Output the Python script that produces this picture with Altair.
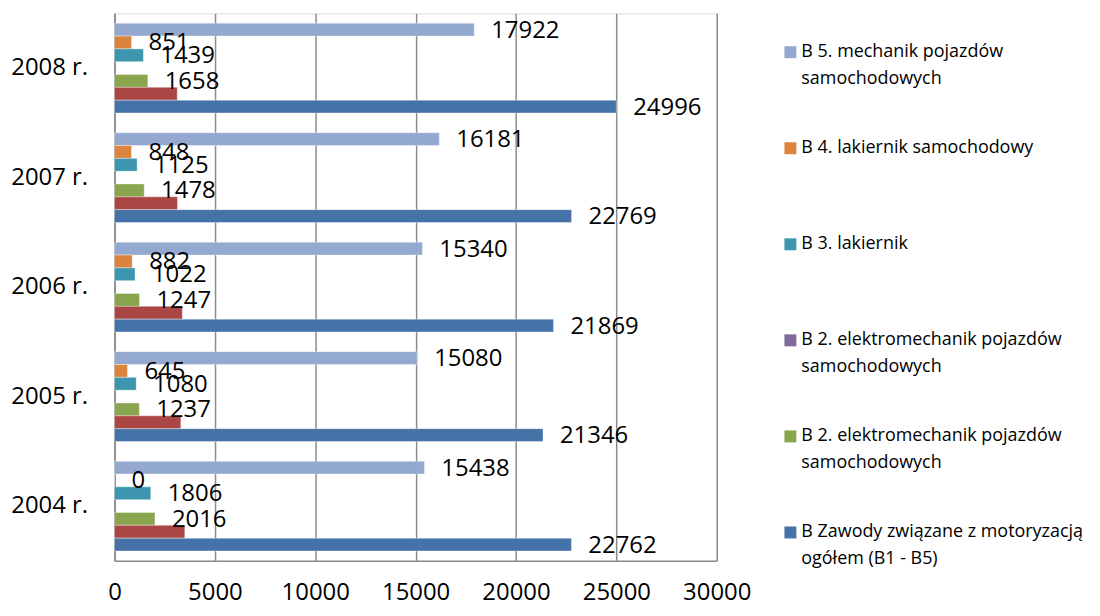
import json
import altair as alt
import pandas as pd

# ---- data ----
years = ["2008 r.", "2007 r.", "2006 r.", "2005 r.", "2004 r."]

b5_mechanik = [17922, 16181, 15340, 15080, 15438]
b4_lakiernik_sam = [851, 848, 882, 645, 0]
b3_lakiernik = [1439, 1125, 1022, 1080, 1806]
b2_elektro_purple = [None, None, None, None, None]
b2_elektro_green = [1658, 1478, 1247, 1237, 2016]
b1_red = [3126, 3137, 3378, 3304, 3502]          # unlabeled bars, read from lengths
b_total = [24996, 22769, 21869, 21346, 22762]

series_keys = ["B5", "B4", "B3", "B2a", "B2b", "B1", "B"]
series_values = [b5_mechanik, b4_lakiernik_sam, b3_lakiernik,
                 b2_elektro_purple, b2_elektro_green, b1_red, b_total]
series_colors = ["#93A9CF", "#DB843D", "#3D96AE", "#80699B", "#89A54E", "#AA4643", "#4572A7"]
labeled_series = ["B5", "B4", "B3", "B2a", "B2b", "B"]

legend_keys = ["B5", "B4", "B3", "B2a", "B2b", "B"]
legend_text = {
    "B5": ["B 5. mechanik pojazdów", "samochodowych"],
    "B4": ["B 4. lakiernik samochodowy"],
    "B3": ["B 3. lakiernik"],
    "B2a": ["B 2. elektromechanik pojazdów", "samochodowych"],
    "B2b": ["B 2. elektromechanik pojazdów", "samochodowych"],
    "B": ["B Zawody związane z motoryzacją", "ogółem (B1 - B5)"],
}

x_ticks = [0, 5000, 10000, 15000, 20000, 25000, 30000]

rows = []
for key, vals in zip(series_keys, series_values):
    for yr, v in zip(years, vals):
        rows.append({"year": yr, "series": key, "value": v})
df = pd.DataFrame(rows)
df_labels = df[df["series"].isin(labeled_series) & df["value"].notna()].copy()
df_labels["label"] = df_labels["value"].astype(int).astype(str)

# legend label expression (two lines each so that every entry has the same height)
expr = "''"
for key in reversed(legend_keys):
    lines = legend_text[key] + [" "] * (2 - len(legend_text[key]))
    expr = f"datum.value == {json.dumps(key)} ? {json.dumps(lines, ensure_ascii=False)} : ({expr})"

FONT = "Open Sans"
GRID = "#8c8c8c"

y_enc = alt.Y("year:N", sort=years,
              scale=alt.Scale(domain=years, paddingInner=0.18, paddingOuter=0.09),
              axis=alt.Axis(title=None, ticks=False, labelPadding=27, labelFontSize=24,
                            labelFont=FONT, labelColor="#000000", domainColor=GRID,
                            domainWidth=1.5, grid=False))
x_enc = alt.X("value:Q",
              scale=alt.Scale(domain=[0, 30000], nice=False),
              axis=alt.Axis(title=None, values=x_ticks, format="d", ticks=False,
                            labelPadding=20, labelFontSize=24, labelFont=FONT,
                            labelOverlap=False, labelFlush=False,
                            labelColor="#000000", grid=True, gridColor=GRID,
                            gridWidth=1.5, domainColor=GRID, domainWidth=1.5))
yoff_enc = alt.YOffset("series:N", scale=alt.Scale(domain=series_keys, paddingInner=0, paddingOuter=0))

bars = alt.Chart(df).mark_bar(stroke="#ffffff", strokeWidth=0.6, strokeOpacity=0.6).encode(
    y=y_enc,
    x=x_enc,
    yOffset=yoff_enc,
    color=alt.Color("series:N",
                    scale=alt.Scale(domain=series_keys, range=series_colors),
                    legend=alt.Legend(values=legend_keys, title=None, orient="none",
                                      legendX=670, legendY=30, padding=0,
                                      symbolType="square", symbolSize=144,
                                      symbolStrokeWidth=0, labelFont=FONT,
                                      labelFontSize=18,
                                      labelColor="#000000", labelLimit=400,
                                      labelOffset=2, rowPadding=51.5,
                                      labelExpr=expr)),
)

texts = alt.Chart(df_labels).mark_text(align="left", baseline="middle", dx=17, dy=1,
                                       fontSize=24, font=FONT, color="#000000").encode(
    y=alt.Y("year:N", sort=years),
    x=alt.X("value:Q"),
    yOffset=alt.YOffset("series:N"),
    text="label:N",
)

chart = alt.layer(bars, texts).properties(
    width=605, height=550,
    autosize=alt.AutoSizeParams(type="none"),
    padding={"left": 107, "top": 4, "right": 377, "bottom": 46},
).configure_view(stroke="transparent").configure(
    background="#ffffff", style={"guide-label": {"lineHeight": 27}})

chart.save("out.html", embed_options={"renderer": "svg", "actions": False})
